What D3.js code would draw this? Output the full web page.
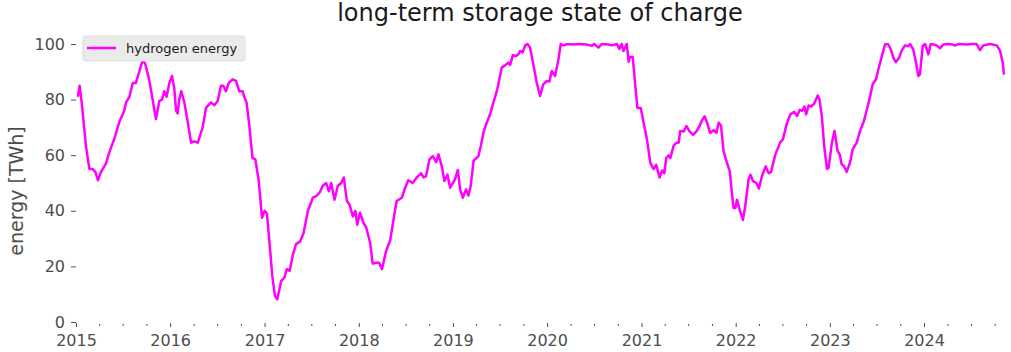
<!DOCTYPE html>
<html>
<head>
<meta charset="utf-8">
<script src="https://cdn.jsdelivr.net/npm/d3@7"></script>
<style>
  body { margin: 0; background: #fff; }
  text { font-family: "DejaVu Sans", sans-serif; }
</style>
</head>
<body>
<div id="chart"></div>
<script>
// state of charge (one row per year)
const dates = [
  "2015-01-08","2015-01-15","2015-01-23","2015-02-09","2015-02-22","2015-03-07","2015-03-17","2015-03-27","2015-04-08","2015-04-27","2015-05-10","2015-05-30","2015-06-18","2015-07-07","2015-07-14","2015-07-27","2015-08-09","2015-08-21","2015-09-03","2015-09-16","2015-09-26","2015-10-12","2015-10-25","2015-11-07","2015-11-20","2015-11-30","2015-12-09","2015-12-18","2015-12-29",
  "2016-01-08","2016-01-17","2016-01-24","2016-01-30","2016-02-05","2016-02-13","2016-02-25","2016-03-09","2016-03-22","2016-04-03","2016-04-17","2016-05-06","2016-05-19","2016-06-07","2016-06-20","2016-07-03","2016-07-16","2016-07-25","2016-08-04","2016-08-15","2016-08-30","2016-09-12","2016-09-25","2016-10-08","2016-10-14","2016-10-23","2016-11-03","2016-11-15","2016-11-26","2016-12-09","2016-12-22",
  "2017-01-01","2017-01-10","2017-01-20","2017-01-31","2017-02-10","2017-02-19","2017-02-28","2017-03-06","2017-03-19","2017-03-28","2017-04-08","2017-04-21","2017-05-03","2017-05-19","2017-06-01","2017-06-18","2017-07-07","2017-07-20","2017-08-02","2017-08-15","2017-08-28","2017-09-07","2017-09-16","2017-09-29","2017-10-12","2017-10-25","2017-11-04","2017-11-16","2017-11-26","2017-12-09","2017-12-19","2017-12-26",
  "2018-01-06","2018-01-19","2018-01-30","2018-02-14","2018-02-24","2018-03-09","2018-03-21","2018-04-01","2018-04-17","2018-05-03","2018-05-23","2018-05-28","2018-06-17","2018-06-30","2018-07-12","2018-07-29","2018-08-14","2018-08-31","2018-09-09","2018-09-19","2018-10-02","2018-10-15","2018-10-28","2018-11-06","2018-11-19","2018-11-29","2018-12-11","2018-12-21",
  "2019-01-09","2019-01-20","2019-01-29","2019-02-08","2019-02-21","2019-03-02","2019-03-11","2019-03-22","2019-04-10","2019-04-19","2019-04-29","2019-05-12","2019-05-25","2019-06-07","2019-06-22","2019-07-09","2019-07-22","2019-08-04","2019-08-11","2019-08-21","2019-09-03","2019-09-12","2019-09-18","2019-09-28","2019-10-08","2019-10-17","2019-10-27","2019-11-09","2019-11-22","2019-12-05","2019-12-17","2019-12-31",
  "2020-01-10","2020-01-19","2020-02-01","2020-02-14","2020-02-23","2020-03-04","2020-03-20","2020-04-10","2020-05-05","2020-06-01","2020-06-16","2020-06-22","2020-07-01","2020-07-18","2020-07-31","2020-08-26","2020-09-08","2020-09-27","2020-10-07","2020-10-16","2020-10-23","2020-11-05","2020-11-12","2020-11-17","2020-11-28","2020-12-07","2020-12-16","2020-12-29",
  "2021-01-09","2021-01-22","2021-02-04","2021-02-17","2021-02-27","2021-03-12","2021-03-22","2021-03-30","2021-04-07","2021-04-16","2021-04-23","2021-05-05","2021-05-16","2021-05-25","2021-05-31","2021-06-13","2021-06-24","2021-07-07","2021-07-20","2021-08-01","2021-08-14","2021-08-23","2021-09-03","2021-09-12","2021-09-24","2021-10-08","2021-10-18","2021-10-27","2021-11-05","2021-11-15","2021-11-28","2021-12-09","2021-12-17","2021-12-24","2021-12-31",
  "2022-01-06","2022-01-16","2022-01-29","2022-02-07","2022-02-20","2022-02-27","2022-03-09","2022-03-22","2022-04-01","2022-04-13","2022-04-27","2022-05-09","2022-05-18","2022-06-04","2022-06-23","2022-07-03","2022-07-19","2022-08-01","2022-08-16","2022-08-27","2022-09-06","2022-09-16","2022-09-24","2022-10-01","2022-10-11","2022-10-20","2022-11-01","2022-11-15","2022-11-22","2022-12-01","2022-12-10","2022-12-21","2022-12-27",
  "2023-01-09","2023-01-19","2023-01-31","2023-02-08","2023-02-16","2023-02-25","2023-03-07","2023-03-20","2023-03-30","2023-04-15","2023-04-28","2023-05-13","2023-05-23","2023-06-05","2023-06-16","2023-06-29","2023-07-08","2023-07-20","2023-08-03","2023-08-15","2023-08-25","2023-09-04","2023-09-14","2023-09-27","2023-10-06","2023-10-19","2023-11-01","2023-11-08","2023-11-20","2023-12-01","2023-12-10","2023-12-16","2023-12-27",
  "2024-01-05","2024-01-18","2024-01-27","2024-02-06","2024-02-19","2024-03-03","2024-03-16","2024-04-05","2024-04-19","2024-04-30","2024-05-15","2024-06-13","2024-07-08","2024-07-23","2024-08-05","2024-08-18","2024-09-13","2024-10-09","2024-10-22","2024-11-01","2024-11-06"
];
const energy = [
  81,85,79,63,55,55,54,51,54,57,61,66,72,76,79,81,86,86,90,94,93,87,80,73,79.5,80,83,81,86,
  88.5,84,76,75,80,83,79,72,64.5,65,64.5,70,77,79,78,79.5,85,85,83,86,87.3,86.7,83,83,81,79,70.5,59,58.5,51,37.5,
  40,39,28.5,16.5,9.4,8.2,12,14.7,16,19,18.4,24.3,28,29,32,40,44.7,45.3,46.5,49,50,47,50,44,49,50,52,43.5,42.3,38,40,35,
  39.3,35.7,34,28.5,21,21.3,21.3,19,25.5,29.5,41,43.5,44.7,48.3,51,50,52,53.5,52,52.5,58.5,59.7,57.5,60.3,56,50.7,53,48.3,
  51.3,54.7,47.7,44.7,47.7,45.5,49,58,59.7,63.3,68,71.7,74.7,79,83.7,91.5,92.3,93.3,92.5,96,95.7,96.3,97.5,97,99.5,100,98.7,92.5,86,81.3,85.5,86.7,
  86.5,90.3,88.5,94.5,100,99.5,100,99.8,100,99.8,99.5,99.3,100,98.7,100,99.8,99.5,100,98.2,100,97.5,100,93.6,95.3,95.3,86,77,77,
  71.7,65.7,57.3,55,56.5,52,54.5,53.5,59,60,59,63.3,64.5,64.5,68.7,68.5,70.5,68.5,67.3,68.5,70.5,72.5,74,71.7,68,69,68,71.7,70.7,61.5,57.3,54.3,46.5,41,41,
  44,40.5,36.7,41.7,51.3,53,50.7,50,48,52.5,56,53.5,54,60.3,64.7,65.7,71.7,74.7,75.6,74.1,76.3,76,77.5,74.7,77.9,77.5,78.5,81.5,80,74,63.3,55,55.5,
  64.5,68.7,61.5,60.3,56.7,56,54,57.3,62,64.5,68.7,72.3,75.9,80.7,85.5,87.3,90.9,95.1,99.9,99.9,98.1,95.1,93.5,95.1,97.5,99.5,99.3,100,98.1,93.3,88.5,89,99.3,
  100,96.3,100,99.8,99.5,98.5,99.8,100,99.8,99.5,100,99.8,100,100,97.8,99.5,100,99.5,97.5,93.3,89
];
const yTicks = [0, 20, 40, 60, 80, 100];
const yearTicks = [2015, 2016, 2017, 2018, 2019, 2020, 2021, 2022, 2023, 2024];
const seriesName = "hydrogen energy";

const width = 1011, height = 352;
const margin = { top: 44, right: 7, bottom: 30, left: 76 };
const lineColor = "#ff00ff",
      tickColor = "#4d4d4d";

const parse = d3.utcParse("%Y-%m-%d");
const data = dates.map((d, i) => ({ date: parse(d), value: energy[i] }));

const svg = d3.select("#chart")
  .append("svg")
  .attr("width", width)
  .attr("height", height);

const x = d3.scaleUtc()
  .domain([new Date(Date.UTC(2015, 0, 1)), d3.max(data, d => d.date)])
  .range([margin.left, width - margin.right]);

const y = d3.scaleLinear()
  .domain([0, 100])
  .range([height - margin.bottom, margin.top]);

// y axis
const yAxis = svg.append("g")
  .attr("transform", `translate(${margin.left},0)`)
  .call(d3.axisLeft(y).tickValues(yTicks).tickSize(5).tickPadding(6));
yAxis.select(".domain").remove();
yAxis.selectAll("line").attr("stroke", tickColor);
yAxis.selectAll("text")
  .style("font-size", "16px")
  .attr("fill", tickColor);

// x axis: quarterly minor ticks, yearly labels
const axisY = height - margin.bottom + 1;
const minor = d3.utcMonth.every(3).range(x.domain()[0], x.domain()[1])
  .filter(d => d.getUTCMonth() !== 0);
const xMinor = svg.append("g")
  .attr("transform", `translate(0,${axisY + 1})`)
  .call(d3.axisBottom(x).tickValues(minor).tickSize(2).tickFormat(""));
xMinor.select(".domain").remove();
xMinor.selectAll("line").attr("stroke", tickColor);

const xAxis = svg.append("g")
  .attr("transform", `translate(0,${axisY})`)
  .call(d3.axisBottom(x)
    .tickValues(yearTicks.map(yr => new Date(Date.UTC(yr, 0, 1))))
    .tickSize(4)
    .tickPadding(8)
    .tickFormat(d3.utcFormat("%Y")));
xAxis.select(".domain").remove();
xAxis.selectAll("line").attr("stroke", tickColor);
xAxis.selectAll("text")
  .style("font-size", "16px")
  .attr("fill", tickColor);

// line
const line = d3.line()
  .x(d => x(d.date))
  .y(d => y(d.value));

svg.append("path")
  .datum(data)
  .attr("fill", "none")
  .attr("stroke", lineColor)
  .attr("stroke-width", 2.5)
  .attr("stroke-linejoin", "round")
  .attr("d", line);

// title + label
svg.append("text")
  .attr("x", (margin.left + width - margin.right) / 2)
  .attr("y", 21)
  .attr("text-anchor", "middle")
  .style("font-size", "24px")
  .attr("fill", "#1a1a1a")
  .text("long-term storage state of charge");

svg.append("text")
  .attr("transform", `translate(23,${(margin.top + height - margin.bottom) / 2 + 8}) rotate(-90)`)
  .attr("text-anchor", "middle")
  .style("font-size", "19px")
  .attr("fill", tickColor)
  .text("energy [TWh]");

// legend
const legend = svg.append("g").attr("transform", "translate(83,36)");
legend.append("rect")
  .attr("width", 162)
  .attr("height", 25)
  .attr("rx", 3)
  .attr("fill", "#ebebeb")
  .attr("stroke", "#dddddd");
legend.append("line")
  .attr("x1", 4).attr("x2", 33)
  .attr("y1", 12).attr("y2", 12)
  .attr("stroke", lineColor)
  .attr("stroke-width", 2.5);
legend.append("text")
  .attr("x", 43)
  .attr("y", 17)
  .style("font-size", "13px")
  .attr("fill", "#1a1a1a")
  .text(seriesName);
</script>
</body>
</html>
